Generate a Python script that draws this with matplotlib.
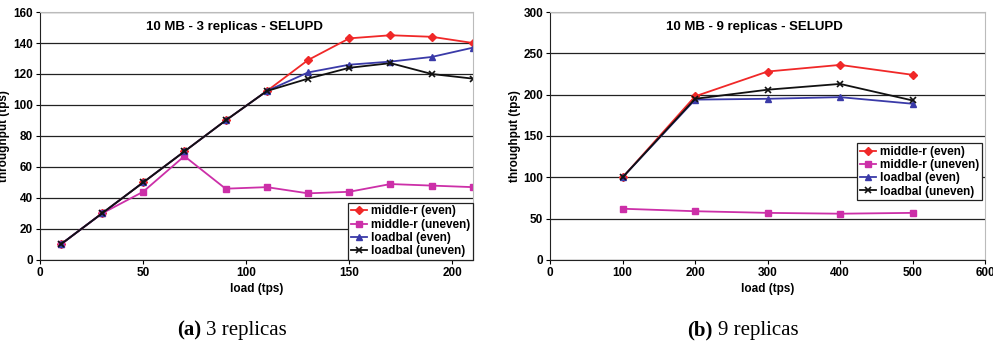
import matplotlib.pyplot as plt
import numpy as np

plt.rcParams['font.family'] = ['Liberation Sans', 'DejaVu Sans']

# panel (a): 3 replicas
load_a = [10, 30, 50, 70, 90, 110, 130, 150, 170, 190, 210]
mid_even_a = [10, 30, 50, 70, 90, 109, 129, 143, 145, 144, 140]
mid_uneven_a = [10, 30, 44, 67, 46, 47, 43, 44, 49, 48, 47]
lb_even_a = [10, 30, 50, 70, 90, 109, 121, 126, 128, 131, 137]
lb_uneven_a = [10, 30, 50, 70, 90, 109, 117, 124, 127, 120, 117]

# panel (b): 9 replicas
load_b = [100, 200, 300, 400, 500]
mid_even_b = [100, 198, 228, 236, 224]
mid_uneven_b = [62, 59, 57, 56, 57]
lb_even_b = [100, 194, 195, 197, 189]
lb_uneven_b = [100, 195, 206, 213, 193]

labels = ['middle-r (even)', 'middle-r (uneven)', 'loadbal (even)', 'loadbal (uneven)']
styles = [
    dict(color='#f02828', marker='D', ms=4),
    dict(color='#cc2fa8', marker='s', ms=5),
    dict(color='#3a3aa8', marker='^', ms=5),
    dict(color='#111111', marker='x', ms=5, mew=1.2),
]
FS = 8.5


def draw(ax, x, series, xlim, xticks, ylim, yticks, title, legpos):
    for y, lab, st in zip(series, labels, styles):
        ax.plot(x, y, lw=1.3, label=lab, **st)
    ax.set_xlim(*xlim)
    ax.set_ylim(*ylim)
    ax.set_xticks(xticks)
    ax.set_yticks(yticks)
    ax.yaxis.grid(True, color='#222222', lw=0.9)
    ax.set_axisbelow(True)
    for s in ['top', 'right']:
        ax.spines[s].set_color('#bbbbbb')
    for s in ['left', 'bottom']:
        ax.spines[s].set_color('#222222')
    ax.tick_params(labelsize=FS, length=3, width=0.8, pad=2)
    for t in ax.get_xticklabels() + ax.get_yticklabels():
        t.set_fontweight('bold')
    ax.set_xlabel('load (tps)', fontsize=FS, fontweight='bold', labelpad=3)
    ax.set_ylabel('throughput (tps)', fontsize=FS, fontweight='bold', labelpad=2)
    ax.text(title[1], 0.94, title[0], transform=ax.transAxes, ha='center',
            va='center', fontsize=9.5, fontweight='bold')
    leg = ax.legend(loc='lower right', bbox_to_anchor=legpos,
                    prop={'weight': 'bold', 'size': FS}, fancybox=False,
                    framealpha=1, edgecolor='#222222', handlelength=1.4,
                    handletextpad=0.3, borderpad=0.25, labelspacing=0.1,
                    borderaxespad=0)
    leg.get_frame().set_linewidth(0.9)


fig = plt.figure(figsize=(9.93, 3.52), dpi=100)
ax1 = fig.add_axes([0.0403, 0.2614, 0.436, 0.7045])
ax2 = fig.add_axes([0.554, 0.2614, 0.438, 0.7045])

draw(ax1, load_a, [mid_even_a, mid_uneven_a, lb_even_a, lb_uneven_a],
     (0, 210), [0, 50, 100, 150, 200], (0, 160), np.arange(0, 161, 20),
     ('10 MB - 3 replicas - SELUPD', 0.45), (1.0, 0.0))
draw(ax2, load_b, [mid_even_b, mid_uneven_b, lb_even_b, lb_uneven_b],
     (0, 600), np.arange(0, 601, 100), (0, 300), np.arange(0, 301, 50),
     ('10 MB - 9 replicas - SELUPD', 0.47), (0.993, 0.24))

# captions under the panels
serif = ['Liberation Serif', 'DejaVu Serif']
W = 993
cy = 0.0625
fig.text(201 / W, cy, '(a)', family=serif, fontsize=15, fontweight='bold',
         ha='right', va='center')
fig.text(206 / W, cy, '3 replicas', family=serif, fontsize=15,
         ha='left', va='center')
fig.text(713 / W, cy, '(b)', family=serif, fontsize=15, fontweight='bold',
         ha='right', va='center')
fig.text(718 / W, cy, '9 replicas', family=serif, fontsize=15,
         ha='left', va='center')

fig.savefig('out.png', dpi=100)
